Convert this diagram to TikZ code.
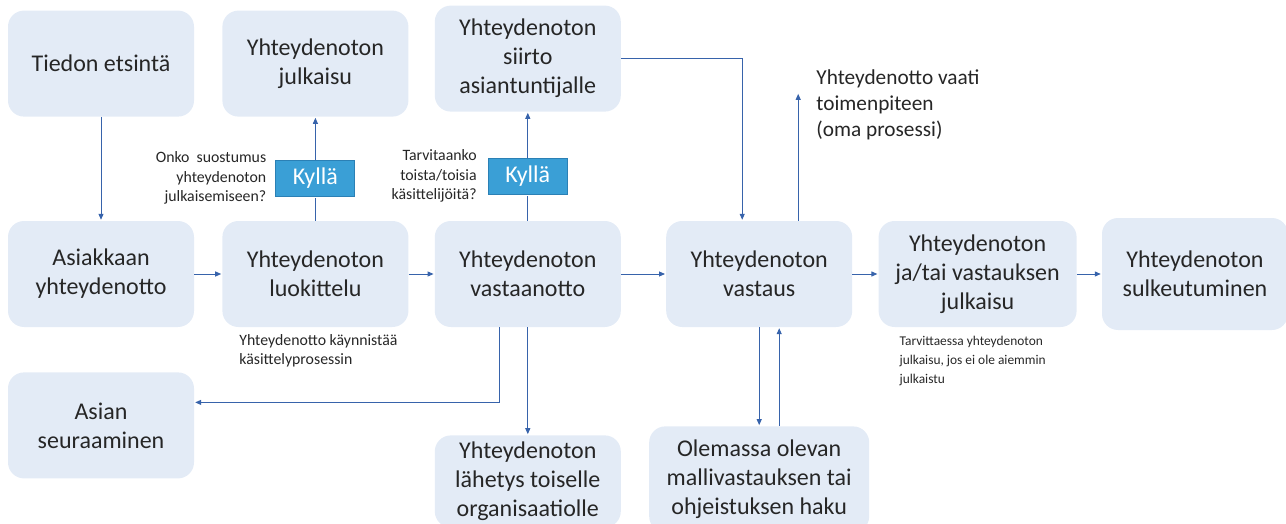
\documentclass[tikz,border=0pt]{standalone}
\usepackage{fontspec}
\setmainfont{Carlito}
\usepackage{xcolor}
\usepackage{tikz}
\usetikzlibrary{arrows.meta,positioning,shapes}

\definecolor{boxblue}{HTML}{E3EBF6}
\definecolor{linkblue}{HTML}{3763AB}
\definecolor{yesblue}{HTML}{3A9FD6}
\definecolor{yesedge}{HTML}{2B80B5}
\definecolor{textgrey}{HTML}{262626}

\begin{document}
\begin{tikzpicture}[>={Triangle[length=6pt,width=5pt]}]
            \tikzstyle{block} = [rectangle, rounded corners=16pt, fill=boxblue, text=textgrey, minimum width=186pt, minimum height=106pt, align=center, font=\fontsize{24}{29}\selectfont]
            \tikzstyle{yes} = [rectangle, draw=yesedge, line width=1pt, fill=yesblue, text=white, minimum width=79pt, minimum height=36pt, inner sep=0pt, font=\fontsize{24}{29}\selectfont]
            \tikzstyle{note} = [text=textgrey, inner sep=0pt, font=\fontsize{15.8}{19.5}\selectfont]
            \tikzstyle{link} = [draw=linkblue, line width=1pt, shorten >=1pt]

            \useasboundingbox (0,0) rectangle (1286pt,-524pt);

            % middle row
            \node [block] (asiakas) at (101pt,-274pt) {Asiakkaan\\yhteydenotto};
            \node [block, right = 28pt of asiakas] (luokittelu) {Yhteydenoton\\luokittelu};
            \node [block, right = 26pt of luokittelu] (vastaanotto) {Yhteydenoton\\vastaanotto};
            \node [block, right = 45pt of vastaanotto] (vastaus) {Yhteydenoton\\vastaus};
            \node [block, minimum width=198pt, right = 26pt of vastaus] (julkaisu2) {Yhteydenoton\\ja/tai vastauksen\\julkaisu};
            \node [block, minimum height=112pt, right = 25pt of julkaisu2] (sulkeutuminen) {Yhteydenoton\\sulkeutuminen};

            % top row
            \node [block, above = 104pt of asiakas] (etsinta) {Tiedon etsintä};
            \node [block, above = 104pt of luokittelu] (julkaisu) {Yhteydenoton\\julkaisu};
            \node [block, above = 109pt of vastaanotto] (siirto) {Yhteydenoton\\siirto\\asiantuntijalle};
            \node [yes, above = 24pt of luokittelu] (kylla1) {Kyllä};
            \node [yes, above = 26pt of vastaanotto] (kylla2) {Kyllä};
            \node [note, align=right, left = 9pt of kylla1] (suostumus) {Onko\ \ suostumus\\yhteydenoton\\julkaisemiseen?};
            \node [note, align=right, left = 11pt of kylla2] (kasittelijat) {Tarvitaanko\\toista/toisia\\käsittelijöitä?};
            \coordinate [above = 128pt of vastaus.north, xshift=39pt] (toimen);
            \node [note, font=\fontsize{21.3}{26}\selectfont, align=left, anchor=north west] (toimenpide) at ([xshift=18pt, yshift=23pt]toimen) {Yhteydenotto vaati\\toimenpiteen\\(oma prosessi)};

            % bottom row
            \node [block, below = 45pt of asiakas] (seuraaminen) {Asian\\seuraaminen};
            \node [block, minimum height=92pt, below = 108pt of vastaanotto] (lahetys) {Yhteydenoton\\lähetys toiselle\\organisaatiolle};
            \node [block, minimum width=220pt, below = 99pt of vastaus] (haku) {Olemassa olevan\\mallivastauksen tai\\ohjeistuksen haku};
            \node [note, align=left, anchor=north west] (kaynnistaa) at ([xshift=17pt, yshift=-7pt]luokittelu.south west) {Yhteydenotto käynnistää\\käsittelyprosessin};
            \node [note, font=\fontsize{13.4}{18.8}\selectfont, align=left, anchor=north west] (tarvittaessa) at ([xshift=21pt, yshift=-9pt]julkaisu2.south west) {Tarvittaessa yhteydenoton\\julkaisu, jos ei ole aiemmin\\julkaistu};

            \draw [link, ->] (etsinta) -- (asiakas);
            \draw [link, ->] (asiakas) -- (luokittelu);
            \draw [link, ->] (luokittelu) -- (vastaanotto);
            \draw [link, ->] (vastaanotto) -- (vastaus);
            \draw [link, ->] (vastaus) -- (julkaisu2);
            \draw [link, ->] (julkaisu2) -- (sulkeutuminen);
            \draw [link] (luokittelu) -- (kylla1);
            \draw [link, ->] (kylla1) -- (julkaisu);
            \draw [link] (vastaanotto) -- (kylla2);
            \draw [link, ->] (kylla2) -- (siirto);
            \draw [link, ->] (siirto) -| ([xshift=-17pt]vastaus.north);
            \draw [link, ->] ([xshift=39pt]vastaus.north) -- (toimen);
            \draw [link, ->] ([xshift=-28pt]vastaanotto.south) |- ([yshift=23pt]seuraaminen.east);
            \draw [link, ->] (vastaanotto) -- (lahetys);
            \draw [link, ->] (vastaus.south) -- (vastaus.south |- haku.north);
            \draw [link, ->] ([xshift=20pt]haku.north) -- ([xshift=20pt]haku.north |- vastaus.south);
\end{tikzpicture}
\end{document}
